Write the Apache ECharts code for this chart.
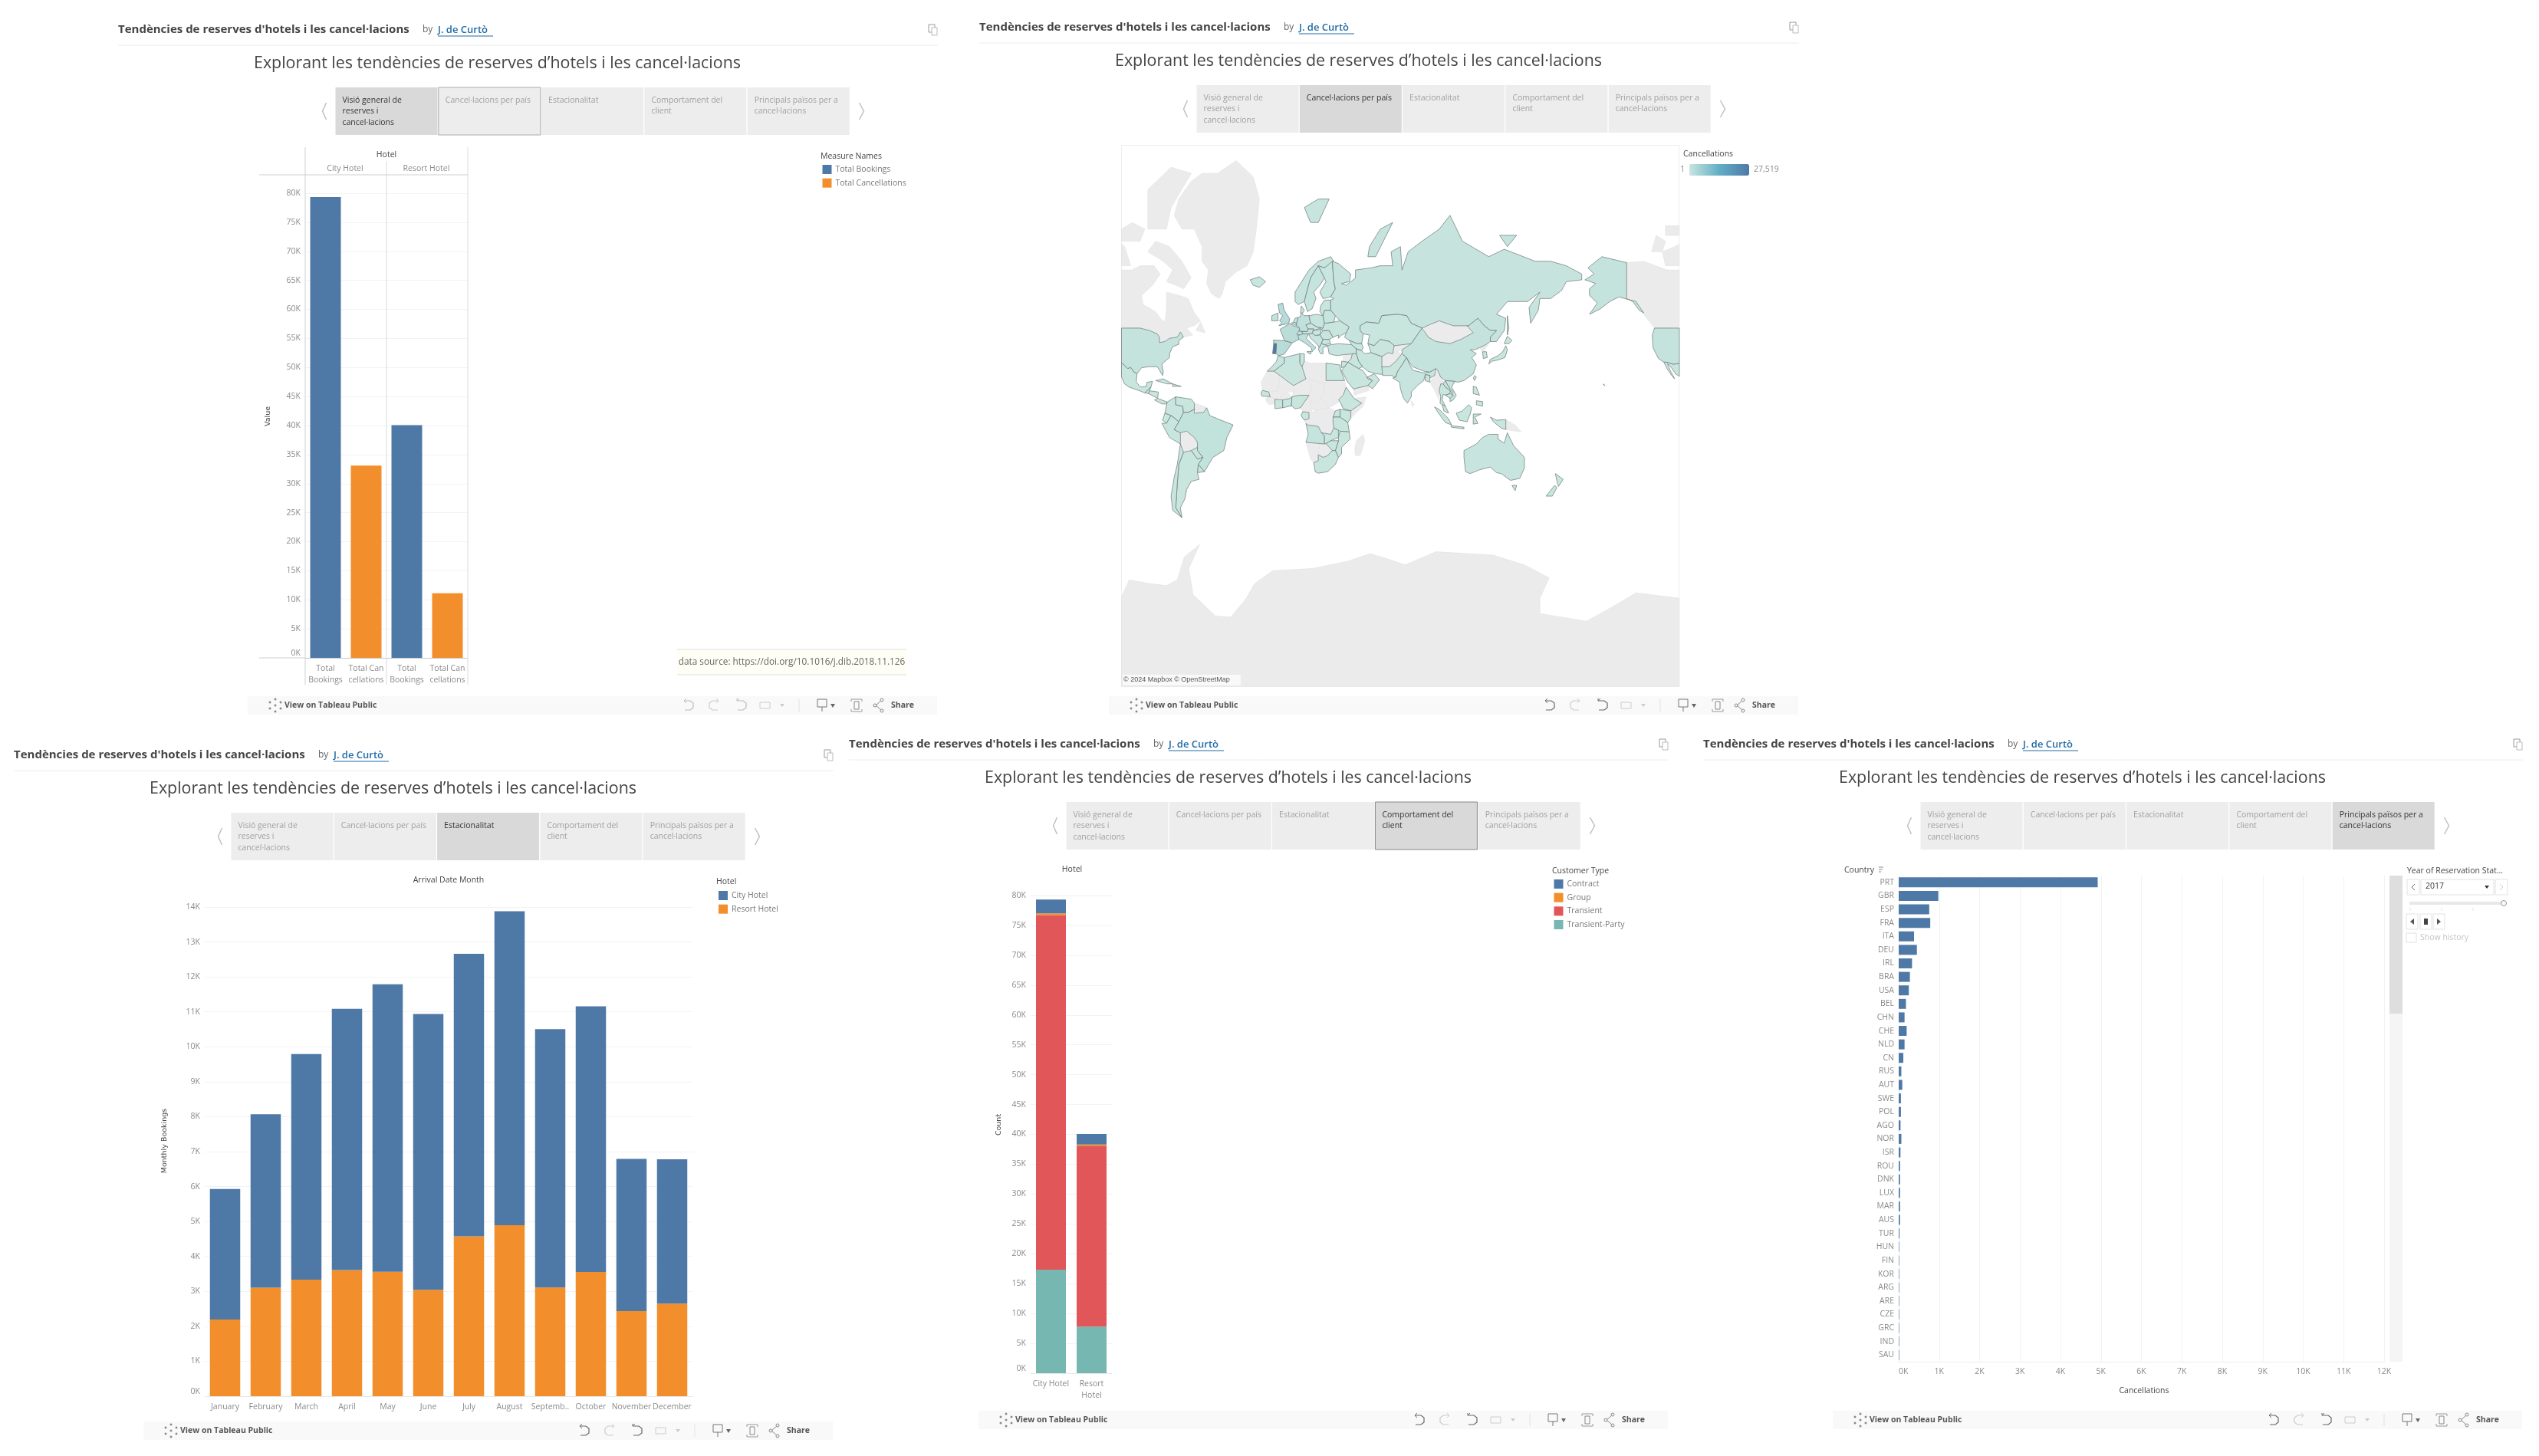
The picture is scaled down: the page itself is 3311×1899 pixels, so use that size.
<!DOCTYPE html>
<html>
<head>
<meta charset="utf-8">
<style>html,body{margin:0;background:#fff}#main{width:3311px;height:1899px}</style>
<script src="https://cdn.jsdelivr.net/npm/echarts@6/dist/echarts.min.js"></script>
</head>
<body>
<div id="main"></div>
<script>
var hotels = ['City Hotel', 'Resort Hotel'];
var measureLabels = ['Total\nBookings', 'Total Can\ncellations', 'Total\nBookings', 'Total Can\ncellations'];
var totalBookings = [79330, null, 40060, null];
var totalCancellations = [null, 33102, null, 11122];

var months = ['January', 'February', 'March', 'April', 'May', 'June', 'July', 'August', 'Septemb..', 'October', 'November', 'December'];
var cityMonthly = [3736, 4965, 6458, 7480, 8232, 7894, 8088, 8983, 7400, 7605, 4357, 4132];
var resortMonthly = [2193, 3103, 3336, 3609, 3559, 3045, 4573, 4894, 3108, 3555, 2437, 2648];

var customerHotels = ['City Hotel', 'Resort\nHotel'];
var contractCount = [2300, 1776];
var groupCount = [293, 284];
var transientCount = [59404, 30209];
var transientPartyCount = [17333, 7791];

var countryCodes = ['PRT', 'GBR', 'ESP', 'FRA', 'ITA', 'DEU', 'IRL', 'BRA', 'USA', 'BEL', 'CHN', 'CHE', 'NLD', 'CN', 'RUS', 'AUT', 'SWE', 'POL', 'AGO', 'NOR', 'ISR', 'ROU', 'DNK', 'LUX', 'MAR', 'AUS', 'TUR', 'HUN', 'FIN', 'KOR', 'ARG', 'ARE', 'CZE', 'GRC', 'IND', 'SAU'];
var countryCancellations = [4920, 980, 755, 780, 380, 450, 330, 277, 250, 180, 145, 197, 145, 115, 65, 89, 55, 55, 45, 66, 44, 33, 33, 33, 33, 33, 20, 12, 12, 12, 12, 12, 12, 12, 12, 12];

var mapNames = ['PRT', 'GBR', 'ESP', 'FRA', 'ITA', 'DEU', 'IRL', 'BRA', 'USA', 'CHN', 'BEL', 'CHE', 'NLD', 'RUS', 'AUT', 'SWE', 'POL', 'AGO', 'NOR', 'ISR', 'ROU', 'DNK', 'MAR', 'AUS', 'TUR', 'HUN', 'FIN', 'KOR', 'ARG', 'ARE', 'CZE', 'GRC', 'IND', 'SAU', 'MEX', 'GTM', 'HND', 'PAN', 'CUB', 'DOM', 'COL', 'VEN', 'ECU', 'PER', 'PRY', 'URY', 'CHL', 'ISL', 'BLK', 'BGR', 'UKR', 'BLR', 'BAL', 'KAZ', 'UZB', 'CAU', 'IRN', 'IRQ', 'EGY', 'TUN', 'DZA', 'SEN', 'CIV', 'GHA', 'NGA', 'GAB', 'ETH', 'KEN', 'UGA', 'TZA', 'ZMB', 'MOZ', 'ZWE', 'ZAF', 'PAK', 'BGD', 'JPN', 'TWN', 'VNM', 'LAO', 'THA', 'KHM', 'MYS', 'IDN', 'PHL', 'NZL'];
var mapValues = [27519, 2453, 2177, 1934, 1333, 1218, 832, 830, 501, 462, 474, 428, 387, 301, 230, 227, 194, 205, 176, 169, 132, 109, 131, 107, 98, 60, 50, 40, 60, 40, 60, 60, 70, 30, 30, 5, 5, 5, 8, 8, 40, 10, 10, 10, 5, 10, 20, 20, 90, 30, 30, 10, 40, 10, 5, 10, 50, 5, 10, 10, 30, 5, 5, 5, 30, 5, 5, 5, 2, 2, 2, 10, 5, 30, 5, 2, 40, 20, 5, 1, 15, 2, 10, 10, 10, 20];

// rough outlines, lon,lat, cut at the map's seam (lon -107)
var worldGrey = {
  ATA: ['-107,-75.2 -102,-72.1 -89,-72.8 -78,-73.2 -71,-72.1 -66.5,-67 -56.5,-63.6 -63.6,-69.7 -60.8,-74.8 -46.5,-78 -36.5,-78.2 -26.5,-75.4 -21,-72.8 -9.4,-70.2 16.3,-69.7 39,-68 53.4,-66.1 65,-67.5 76,-68.9 96,-65.6 133,-66.5 153,-68.9 169,-71.7 163,-75.4 163,-77.7 193,-78.7 210,-76.7 225,-74.5 253,-75.4 253,-84.55 -107,-84.55'],
  GRL: ['-73,78 -70,80 -62,81.8 -55,82.5 -45,82.5 -33,83.5 -22,82.2 -18,80 -20,76 -22,72 -26,69 -33,67.5 -40,65 -42,61.5 -44,60 -49,61.5 -52,64.5 -51,68 -55,70 -55,73 -60,76 -68,76'],
  CAN: ['-107,49 -95,49 -89,48 -84,46.5 -82.5,45 -82.5,42.5 -79,43 -76,44.5 -71,45 -69,47.3 -67,45 -61,46 -65,49 -60,50 -56,52 -60,55 -64,60 -70,61 -78,62 -78,56 -79,51.5 -82,53 -85,55.5 -93,58 -94,61 -87,64 -82,67 -86,69 -95,69 -100,68 -107,68',
    '-62,66 -67,63 -72,64 -78,65 -74,68 -80,70 -90,72 -85,74 -76,73 -68,70', '-90,76 -78,76 -75,79 -62,82.5 -75,83 -90,81', '-107,69 -101,69 -105,73 -107,73.5', '-107,74 -95,74 -92,76 -100,77 -107,76', '-59,48 -53,47 -56,51.5',
    '-107.001,49 -123,49 -130,54.5 -133,58 -137,59 -141,60 -141,69.7 -130,70 -115,68 -107.001,68', '-125,72 -118,72 -116,74 -122,75', '-107.001,69 -116,69 -118,72 -110,73 -107.001,73.5', '-116,75 -107.001,75 -107.001,76.5 -116,76.5'],
  MNG: ['88,49 92,50.5 98,52 107,50 116,50 120,47 112,44 105,42 96,43 91,45'],
  BOL: ['-69,-11 -65,-10 -60,-14 -58,-17 -58,-20 -62,-22 -67,-23 -69,-18'],
  GUY: ['-60,8 -54,6 -52,5 -54,2 -58,1.5 -60,4'],
  LBY: ['9.5,30 11,33 15,32 20,32 25,32 25,20 24,19.5 15,23 12,23'],
  MRT: ['-17,21 -13,27.5 -8.7,27.5 -4.8,25 -6,15.5 -12,15 -16,16'],
  MLI: ['-12,15 -6,15.5 -4.8,25 1,21 4,19 4,15 0,15 -5,11 -8,10.5 -11,12'],
  NER: ['4,15 4,19 12,23 15,23 15.5,17 14,13 8,13 3,12'],
  TCD: ['14,13 15.5,17 15,23 24,19.5 24,15 22,11 18,8 15,10'],
  SDN: ['24,19.5 25,22 37,22 38,18 36,13 33,10 34,9 27,5 22,11 24,15'],
  BFA: ['-5,11 0,15 3,12 2,11 -3,10'],
  GIN: ['-14,11 -11,12 -8,10.5 -8,7.5 -11.5,7 -13.5,9'],
  CMR: ['8.5,5 14,13 15,10 15,7 16,2 10,2.5'],
  CAF: ['15,10 18,8 22,11 27,5 19,3.5 15,4'],
  COD: ['12,-5 11,-3 14,-2 14,1 18,3.5 27,5 31,3 29.5,-4 30,-8 28,-12 22,-11 20,-7 13,-6'],
  SOM: ['41,-1.5 41,3 48,8 43,11 51,12 49,6'],
  NAM: ['12,-17 24,-18 21,-18 20,-22 20,-28 17,-29 15,-27'],
  BWA: ['21,-18 25,-17.8 29,-22 26,-25 23,-26 20,-24.5 20,-22'],
  MDG: ['49,-12 50,-16 47,-25 44,-25 43.5,-21 44.5,-16'],
  AFG: ['61,35.5 65,37.5 71,38 74,37 70,33 66,30 61,30'],
  SYR: ['36,36.5 42,37 41,34 39,32.5 36,33'],
  YEM: ['43,13 43,17 52,19 53,16'],
  KGZ: ['69,41 80,42 74,39 68,37'],
  MMR: ['92,21 97,28 99,24 101,21 98,16 98,10 95,16'],
  PNG: ['141,-2.6 147,-6 151,-10.5 147,-10 141,-9'],
  PRK: ['124,40 128,41.5 130,42 127.5,39 126,38'],
  LKA: ['80,9.5 82,7 80.5,6']
};
var worldTeal = {
  USA: ['-107,49 -95,49 -89,48 -84,46.5 -82.5,45 -82.5,42.5 -79,43 -76,44.5 -71,45 -69,47.3 -67,45 -70,43.5 -70,41.7 -74,40.5 -76,37 -76,35 -81,31.5 -80,27 -80.5,25 -82.5,28 -84,30 -89,30 -94,29.5 -97,26 -99,27 -101,29.5 -103,29 -106.5,31.8 -107,31.8',
    '-107.001,49 -107.001,31.8 -111,31.3 -115,32.5 -117,32.5 -120.5,34.5 -124,40 -124.5,46 -123,49',
    '-141,69.7 -141,60 -137,59 -133,56 -130,55 -135,59 -146,60.5 -152,59 -158,56.5 -165,54.5 -160,58.5 -165,61 -165,63 -161,64.5 -168,65.5 -162,67 -166,68.5 -157,71', '-156,20 -155,19 -156,19.5'],
  MEX: ['-107,31.8 -106.5,31.8 -103,29 -101,29.5 -99,27 -97,26 -97.5,21 -94.5,18 -91,18.5 -90.5,21 -87,21.5 -88,18 -92,14.5 -96,16 -102,18 -105,20 -107,24', '-107.001,31.8 -107.001,24.5 -109.5,26 -112.5,30 -114.7,31.7 -113,28 -110,23 -112,25 -115,29 -117,32.5 -115,32.5 -111,31.3'],
  GTM: ['-92,14.5 -88,18 -89,15.8 -89.5,14'],
  HND: ['-89,15.8 -83.2,15 -83.7,11 -87.5,13 -89.5,14'],
  PAN: ['-83.7,11 -77.5,8.7 -78,7.5 -81,7.5 -85.7,10'],
  CUB: ['-85,22 -80,23 -74,20 -77.5,20'],
  DOM: ['-74,18.5 -74,20 -68.5,18.5'],
  COL: ['-77.5,8.7 -72,12 -72,7 -67.5,6 -67,2 -70,-4 -74,-0.5 -79,1.5'],
  VEN: ['-72,12 -62,10.5 -60,8 -60,4 -64,2 -67,2 -67.5,6 -72,7'],
  ECU: ['-79,1.5 -75,0 -78,-5 -80.5,-3'],
  PER: ['-81,-5 -78,-5 -75,0 -70,-4 -73,-9 -69,-11 -69,-18 -76,-14'],
  BRA: ['-70,-4 -67,2 -64,2 -60,4 -60,1.5 -54,2 -52,5 -50,0 -44,-2.5 -35,-6 -39,-14 -41,-22 -48,-26 -53.5,-34 -57.5,-30 -54.5,-26 -58,-22 -58,-17 -60,-14 -65,-10 -69,-11 -73,-9'],
  PRY: ['-58,-20 -62,-22 -58,-27 -54.5,-26 -58,-22'],
  URY: ['-57.5,-30 -53.5,-34 -58,-34.5'],
  ARG: ['-67,-23 -62,-22 -58,-27 -54.5,-26 -57.5,-30 -58,-34.5 -57,-38 -62,-39 -65,-43 -66,-47 -69,-51 -68,-54.8 -72,-51 -71,-40 -70,-30'],
  CHL: ['-69,-18 -67,-23 -70,-30 -71,-40 -72,-51 -68,-54.8 -74,-52 -75,-46 -73,-37 -71,-30'],
  ISL: ['-24,65.5 -18,66.3 -14,65 -18,63.4 -22,64'],
  GBR: ['-5.5,50 1,51 1.5,52.8 -2,56 -3,58.5 -6,58 -5,55 -3,54 -5,52 -3.5,51.2'],
  IRL: ['-10,52 -6,52 -6,55 -10,54'],
  ESP: ['-9,43.7 -1.8,43.4 3.2,42.4 0,39 -2,36.8 -5.5,36 -7.4,37 -7,42 -8.8,42'],
  FRA: ['-1.8,43.4 -4.7,48.5 1.6,50.9 4,50 8,49 7.5,44 3.2,42.4'],
  BEL: ['2.5,51 6,50 6,51 4,51.5'],
  NLD: ['4,51.5 6,51 7,53.3 5,53'],
  DEU: ['6,51 6,50 8,49 7.5,47.7 13,47.5 13.5,48.7 12,50.3 15,51 14,54 11,54 9,55 8.5,53.7 7,53.3'],
  CHE: ['6,46.3 7.5,47.7 9.5,47.5 10,46.5 8,46'],
  ITA: ['7.5,44 6.8,45.8 8,46 10,46.5 13.7,46.5 12.3,44.5 16,41.7 18.5,40 17,39 16,38 15.5,40 11,42.5', '12.5,38 15.5,38.2 15,36.7'],
  AUT: ['9.5,47.5 13,47.5 13.5,48.7 17,48.7 16,46.8 13.7,46.5 10,46.5'],
  DNK: ['8.5,55 9,57.5 11,56 10,55'],
  NOR: ['5,59 5,62 14,68 20,70 28,71 30,70 24,68.5 20,69 15,66 12,61 11,59 7,58', '11,79 20,80 27,80 20,77 15,77'],
  SWE: ['11,59 12,61 15,66 20,69 24,66 21,64 17,62 18.5,60 16,56.5 13,55.5'],
  FIN: ['24,66 20,69 24,68.5 29,70 30,65 31,63 28,60.5 23,60 21,62 25,65'],
  POL: ['14,54 15,51 19,49.5 23,49 24,51 23,54 19,54.5'],
  CZE: ['12,50.3 15,51 19,49.5 22,49 17,48 17,48.7 13.5,48.7'],
  HUN: ['16,46.8 17,48 22,48.5 21,46 18,45.8'],
  BLK: ['13.7,46.5 16,46.8 18,45.8 21,46 23,44 22,42 20.5,40 19.5,41.5 15,44.5'],
  ROU: ['21,46 23,48 27,48 29.5,45 27,44 23,44'],
  BGR: ['23,44 27,44 28,42 24,41.5 22,42'],
  GRC: ['20.5,40 22,42 24,41.5 26,41 23,40 23,37 21.5,37 20,39'],
  TUR: ['26,41 28,41.5 33,42 41.5,41.5 44.5,39.5 44.5,37 36,36.5 33,36 30,36.3 27,37'],
  UKR: ['24,51 30,51.5 34,52 40,49.5 38,47 35,46 33,44.5 33,46 29.5,45 27,48 23,48 22,48.5 23,49'],
  BLR: ['23,54 24,56 28,56 31,54 30,51.5 24,51'],
  BAL: ['21,55.5 21.5,57.5 24,59.5 28,59.5 28,56 24,56 23,54'],
  RUS: ['28,59.5 30,60 28,60.5 31,63 30,65 29,70 33,69.5 41,67 40,65 35,64.5 38,64 44,66 44,68 54,68.5 60,69 68,69 67,72 73,73 74,68 78,72 87,74 98,76 105,78 113,74 130,71 140,72.5 160,70 170,70 180,69 190,67 190,65.5 180,65 177,62.5 170,60 163,60 162,56 157,51 156,57 163,62 155,59 142,59 135,54.5 141,53 140,48 135,43 131,43 131,45 135,48 131,48 127,50 123,53 117,50 107,50 98,52 92,50.5 87,49 80,51 77,54 71,54.5 61,54 59,51 51,51.5 47,50 47,48 49,46.5 48,42 45,42 40,43.5 37,45 38,47 40,49.5 34,52 31,54 28,56',
    '52,71 57,71 68,77 60,76 53,73', '137,75 148,75 142,73', '142,54 143,49 142,46 141.9,50'],
  KAZ: ['47,50 51,51.5 59,51 61,54 71,54.5 77,54 80,51 87,49 80,42 69,41 66,43 60,44 56,41 52,42 53,46 49,46.5 47,48'],
  UZB: ['56,41 60,44 66,43 69,41 68,37 65,37.5 61,35.5 54,37.5 53,40 52,42'],
  CAU: ['40,43.5 45,42 48,42 49,40 48,38.5 44.5,39.5 41.5,41.5'],
  IRN: ['44.5,39.5 48,38.5 50,37 54,37.5 61,35.5 61,30 63,25.5 57,26 52,27.5 48.5,30 46,33 44.5,37'],
  IRQ: ['44.5,37 46,33 48.5,30 46,29 42,31 39,32.5 41,34 42,37'],
  SAU: ['39,32.5 42,31 46,29 48.5,28 51,25 52,23 55,22 52,19 43,17 43,16.5 39,21 35,28 37,30'],
  ISR: ['35,29.5 35,33 36,33 39,32.5 37,30'],
  ARE: ['51.5,24 56,26 59.5,22.5 55,17 52,19 55,22'],
  EGY: ['25,32 34,31 34.5,28 37,22 25,22'],
  TUN: ['8,37 11,37 11,33 9.5,30 8,32'],
  DZA: ['-2,35 8,37 8,32 9.5,30 12,23 4,19 1,21 -4.8,25 -8.7,27.5 -2,32'],
  MAR: ['-6,36 -2,35 -2,32 -8.7,27.5 -13,27.5 -10,30 -7,33'],
  SEN: ['-17,14.7 -16,16 -12,15 -11,12 -16.5,12.5'],
  CIV: ['-8,10.5 -3,10 -3,5 -8,4.5 -8,7.5'],
  GHA: ['-3,10 2,11 3,12 2.7,6.3 -3,5'],
  NGA: ['3,12 8,13 14,13 8.5,5 5,4.3 2.7,6.3'],
  GAB: ['8.8,0 10,2.5 14,2 14,-2 11,-3'],
  AGO: ['12,-5 13,-6 20,-7 22,-11 24,-13 24,-18 12,-17 13.5,-12'],
  ETH: ['33,10 36,13 38,18 43,11 48,8 41,3 36,4.5 34,9'],
  KEN: ['34,4 41,3 41,-1.5 39,-4.5 34,-1'],
  UGA: ['31,3 34,4 34,-1 29.5,-1'],
  TZA: ['29.5,-1 34,-1 39,-4.5 40,-10.5 34,-10 30,-8 29.5,-4'],
  ZMB: ['22,-11 28,-12 30,-8 33,-9.5 33,-14 28,-16 25,-17.8 24,-18 24,-13'],
  MOZ: ['34,-10 40,-10.5 40.5,-15 35,-20 35,-24 33,-26 31,-22 33,-16 33,-14'],
  ZWE: ['25,-17.8 28,-16 33,-16 31,-22 29,-22'],
  ZAF: ['17,-29 20,-28 20,-24.5 23,-26 26,-25 29,-22 31,-22 33,-26 31,-30 26,-34 20,-34.8 18,-34'],
  PAK: ['61,30 66,30 70,33 74,37 77,35 74,31 71,27 70,24 67,25 61.5,25'],
  IND: ['68,23.5 70,24 71,27 74,31 77,35 79,31 81,28 88,26.5 92,27 96,29 95,25 92,23.5 92,25 89,25.5 88,22 84,19 80,15 80,12 77.5,8 75,11 73,17 72.5,21'],
  BGD: ['89,25.5 92,25 92,21 89,22'],
  CHN: ['74,37 74,39 80,42 87,49 91,45 96,43 105,42 112,44 120,47 116,50 117,50 123,53 127,50 131,48 135,48 131,45 131,43 128,41.5 124,40 121,39 118,39 122,37 119,35 122,31 120,26 114,22 110,21 108,21.5 102,22 99,24 97,28 96,29 92,27 88,27.5 81,30 79,32 77,35'],
  KOR: ['126,38 128.5,38 129,35 126.5,34.5'],
  JPN: ['130,31.5 131,34 136,36 139,38 141,41 142,39 140.5,35 136,33.7 132,33', '140,42 142,45.5 145,43.5 143,42'],
  TWN: ['121,25 122,24 120.8,22 120,23.5'],
  VNM: ['102,22 108,21.5 106,18 109,13 107,10 105,9 105,11 107,13 105,17 103,20'],
  LAO: ['102,22 103,20 105,17 107,15 106,14 105,16 102,18 100.5,20'],
  THA: ['98,16 99,20 100.5,20 102,18 105,16 105,14 102,13 100.5,13.5 100,10 102,6 100,7 98.5,8 99,12'],
  KHM: ['102,13 105,14 107,13 105,11'],
  MYS: ['100,7 102,6 103.5,3 104,1.5 101,3'],
  IDN: ['109,1.5 113,3 117,7 119,5 118,1 116,-4 111,-3', '95,5.5 98,4 104,-2 106,-6 102,-4.5 98,1', '105.5,-6.5 114,-7.5 114,-8.5 106,-7.5', '120,1 125,1 121,-1 123,-5 120,-5.5', '131,-1 135,-3 141,-2.6 141,-9 138,-8 133,-4'],
  PHL: ['120,18.5 122,18 124,13 120,14', '122,9.5 126,9 126,6 122,7'],
  AUS: ['114,-22 122,-18 126,-14 130,-12 136,-12 136,-15 140,-17.5 142,-11 146,-19 153,-26 153,-32 150,-37.5 144,-38.5 138,-35 135,-34.5 131,-31.5 124,-33 118,-35 115,-34 114,-26', '145,-41 148,-41 147,-43.5'],
  NZL: ['173,-35 178,-38 175,-41.5 174,-39', '172.5,-41 174,-42 171,-46 167,-46'],
  PRT: ['-9.5,37 -7.4,37 -7,42 -8.8,42']
};

var bodyFont = '"Open Sans"';
var titleFont = '"Open Sans"';
var blue = '#4e79a7', orange = '#f28e2b', red = '#e15759', teal = '#76b7b2';
var tabNames = [['Visió general de', 'reserves i', 'cancel·lacions'], ['Cancel·lacions per país'], ['Estacionalitat'], ['Comportament del', 'client'], ['Principals països per a', 'cancel·lacions']];
var els = [];

function txt(x, y, s, o) {
  o = o || {};
  els.push({
    type: 'text', x: x, y: y, rotation: o.rot || 0, z: o.z || 5,
    style: {
      text: s, fill: o.fill || '#666', fontSize: o.size || 10.5, fontFamily: o.font || bodyFont,
      fontWeight: o.weight || 'normal', align: o.align || 'left', verticalAlign: 'middle'
    }
  });
}
function box(x, y, w, h, fill, stroke, z) {
  els.push({ type: 'rect', z: z || 1, shape: { x: x, y: y, width: w, height: h }, style: { fill: fill || 'none', stroke: stroke || 'none', lineWidth: 1 } });
}
function pline(pts, color, lw, z) {
  els.push({ type: 'polyline', z: z || 6, shape: { points: pts }, style: { stroke: color, fill: 'none', lineWidth: lw || 1 } });
}
function tri(pts, color) {
  els.push({ type: 'polygon', z: 6, shape: { points: pts }, style: { fill: color } });
}
function dot(x, y, r, stroke) {
  els.push({ type: 'circle', z: 6, shape: { cx: x, cy: y, r: r }, style: { fill: '#f9f9f9', stroke: stroke } });
}

function header(hx, hy, sel, hover, barY, iconsOn) {
  txt(hx, hy, 'Tendències de reserves d\'hotels i les cancel·lacions', { size: 15, weight: 700, fill: '#444', font: titleFont });
  txt(hx + 397, hy, 'by', { size: 12, fill: '#666' });
  txt(hx + 417, hy, 'J. de Curtò', { size: 13, fill: '#1f6aa5', weight: 600 });
  pline([[hx + 417, hy + 8], [hx + 489, hy + 8]], '#1f6aa5', 1);
  pline([[hx, hy + 20], [hx + 1069, hy + 20]], '#ececec', 1);
  // copy link icon
  var ix = hx + 1062;
  pline([[ix - 1, hy + 3], [ix - 5, hy + 3], [ix - 5, hy - 7], [ix + 3, hy - 7], [ix + 3, hy - 3]], '#999', 1);
  box(ix - 1, hy - 3, 7, 10, '#fff', '#bbb', 6);

  txt(hx + 177, hy + 44, 'Explorant les tendències de reserves d’hotels i les cancel·lacions', { size: 21.4, fill: '#444', font: titleFont });

  var tabX = hx + 283.5, tabY = hy + 75;
  tabNames.forEach(function (lines, i) {
    var x = tabX + i * 134.3;
    var on = i === sel;
    box(x, tabY, 133, 62, on ? '#d9d9d9' : '#ededed', i === hover ? '#aaa' : 'none');
    lines.forEach(function (l, k) {
      txt(x + 9, tabY + 17 + k * 14.3, l, { fill: on ? '#333' : '#a0a0a0' });
    });
  });
  pline([[tabX - 12, tabY + 20], [tabX - 17, tabY + 31], [tabX - 12, tabY + 42]], '#c0c0c0', 1.5);
  pline([[tabX + 683, tabY + 20], [tabX + 689, tabY + 31], [tabX + 683, tabY + 42]], '#c0c0c0', 1.5);

  // bottom toolbar
  box(hx + 169, barY, 899, 24, '#f9f9f9', 'none', 1);
  var cy = barY + 12, lx = hx + 205;
  [[0, 0], [0, -8], [0, 8], [-7, -4], [7, -4], [-7, 4], [7, 4]].forEach(function (p) {
    pline([[lx + p[0] - 1.5, cy + p[1]], [lx + p[0] + 1.5, cy + p[1]]], '#666', 1);
    pline([[lx + p[0], cy + p[1] - 1.5], [lx + p[0], cy + p[1] + 1.5]], '#666', 1);
  });
  txt(hx + 217, cy, 'View on Tableau Public', { size: 10.5, weight: 700, fill: '#555' });
  var r = hx + 1068;
  var dark = iconsOn ? '#666' : '#bbb';
  pline([[r - 330, cy - 6], [r - 322, cy - 6], [r - 318, cy - 3], [r - 318, cy + 3], [r - 322, cy + 6], [r - 329, cy + 6]], dark, 1.2);
  pline([[r - 327, cy - 9], [r - 330, cy - 6], [r - 327, cy - 3]], dark, 1);
  pline([[r - 285, cy - 6], [r - 293, cy - 6], [r - 297, cy - 3], [r - 297, cy + 3], [r - 293, cy + 6], [r - 286, cy + 6]], '#ccc', 1.2);
  pline([[r - 288, cy - 9], [r - 285, cy - 6], [r - 288, cy - 3]], '#ccc', 1);
  pline([[r - 261, cy - 6], [r - 253, cy - 6], [r - 249, cy - 3], [r - 249, cy + 3], [r - 253, cy + 6], [r - 260, cy + 6]], dark, 1.2);
  pline([[r - 258, cy - 9], [r - 261, cy - 6], [r - 261, cy - 9]], dark, 1);
  box(r - 231, cy - 4, 13, 8, 'none', '#ccc', 6);
  tri([[r - 205, cy - 2], [r - 199, cy - 2], [r - 202, cy + 2]], '#ccc');
  pline([[r - 180, cy - 8], [r - 180, cy + 8]], '#e2e2e2', 1);
  box(r - 156, cy - 8, 12, 10, 'none', '#777', 6);
  pline([[r - 150, cy + 2], [r - 150, cy + 8]], '#777', 1);
  tri([[r - 139, cy - 2], [r - 133, cy - 2], [r - 136, cy + 3]], '#666');
  box(r - 108, cy - 5, 6, 10, 'none', '#888', 6);
  pline([[r - 112, cy - 5], [r - 112, cy - 8], [r - 98, cy - 8], [r - 98, cy - 5]], '#999', 1);
  pline([[r - 112, cy + 5], [r - 112, cy + 8], [r - 98, cy + 8], [r - 98, cy + 5]], '#999', 1);
  pline([[r - 73, cy - 6], [r - 80, cy], [r - 73, cy + 6]], '#888', 1);
  dot(r - 72, cy - 7, 2, '#888');
  dot(r - 81, cy, 2, '#888');
  dot(r - 72, cy + 7, 2, '#888');
  txt(r - 60, cy, 'Share', { size: 10.5, weight: 700, fill: '#555' });
}

var grids = [], xAxes = [], yAxes = [], series = [], legends = [];

function kLabel(v) { return v / 1000 + 'K'; }
function addCartesian(g, catData, max, interval) {
  var idx = grids.length;
  grids.push({ left: g.left, top: g.top, width: g.width, height: g.height });
  xAxes.push({
    type: 'category', gridIndex: idx, data: catData,
    axisLine: { lineStyle: { color: g.axisColor || '#e8e8e8' } }, axisTick: { length: 4, lineStyle: { color: '#e8e8e8' } },
    axisLabel: { interval: 0, color: '#8a8a8a', fontSize: 10.5, fontFamily: bodyFont, margin: 7, lineHeight: 14.5 }
  });
  yAxes.push({
    type: 'value', gridIndex: idx, min: 0, max: max, interval: interval,
    axisLine: { show: false }, axisTick: { show: false },
    axisLabel: { formatter: kLabel, color: '#8a8a8a', fontSize: 10.5, fontFamily: bodyFont, margin: 6, verticalAlignMinLabel: 'bottom' },
    splitLine: { lineStyle: { color: '#f3f3f3' } }
  });
  return idx;
}
function addBar(idx, name, data, color, width, stack) {
  series.push({ type: 'bar', name: name, xAxisIndex: idx, yAxisIndex: idx, data: data, stack: stack, barWidth: width, silent: true, itemStyle: { color: color } });
}
function addLegend(names, left, top) {
  legends.push({
    data: names, left: left, top: top, orient: 'vertical', itemWidth: 12, itemHeight: 12, itemGap: 5.67, icon: 'rect', selectedMode: false,
    textStyle: { color: '#777', fontSize: 10.5, fontFamily: bodyFont }, padding: 0
  });
}

// panel 1, bookings and cancellations per hotel
header(154, 39, 0, 1, 908, false);
var g1 = addCartesian({ left: 398, top: 252, width: 212, height: 606, axisColor: '#c8c8c8' }, measureLabels, 80000, 5000);
addBar(g1, 'Total Bookings', totalBookings, blue, 40, 'a');
addBar(g1, 'Total Cancellations', totalCancellations, orange, 40, 'a');
addLegend(['Total Bookings', 'Total Cancellations'], 1072.5, 215);
txt(1070, 204, 'Measure Names', { fill: '#444' });
pline([[398, 192], [398, 893]], '#cfcfcf', 1);
pline([[504, 210], [504, 893]], '#dcdcdc', 1);
pline([[610, 192], [610, 893]], '#dcdcdc', 1);
pline([[338, 228], [610, 228]], '#cfcfcf', 1);
pline([[338, 858], [398, 858]], '#cfcfcf', 1);
txt(504, 202, 'Hotel', { align: 'center', fill: '#444' });
txt(450, 220, hotels[0], { align: 'center', fill: '#8a8a8a' });
txt(556, 220, hotels[1], { align: 'center', fill: '#8a8a8a' });
txt(350, 543, 'Value', { rot: Math.PI / 2, align: 'center', size: 9.5, fill: '#444', font: '"DejaVu Sans"' });
box(883, 847, 299, 33, '#fffef5', 'none');
pline([[883, 847], [1182, 847]], '#ddd', 1);
pline([[883, 880], [1182, 880]], '#ddd', 1);
txt(1032.5, 864, 'data source: https://doi.org/10.1016/j.dib.2018.11.126', { align: 'center', fill: '#666', size: 11.8 });

// panel 2, map
header(1277, 36, 1, -1, 908, true);
box(1462.5, 189.5, 727, 706, '#fff', '#eeeeee', 0);
txt(2195, 201, 'Cancellations', { fill: '#444' });
box(1464, 880, 154, 14, 'rgba(255,255,255,0.7)', 'none', 20);
txt(1465, 887, '© 2024 Mapbox © OpenStreetMap', { size: 9, fill: '#555', z: 21, font: '"Liberation Sans"' });

// panel 3, monthly
header(18, 985, 2, -1, 1854, true);
var g3 = addCartesian({ left: 267, top: 1183, width: 636, height: 638 }, months, 14000, 1000);
addBar(g3, 'Resort Hotel', resortMonthly, orange, 39.5, 'b');
addBar(g3, 'City Hotel', cityMonthly, blue, 39.5, 'b');
addLegend(['City Hotel', 'Resort Hotel'], 937, 1162);
txt(934, 1150, 'Hotel', { fill: '#444' });
txt(585, 1148, 'Arrival Date Month', { align: 'center', fill: '#444' });
txt(215, 1488, 'Monthly Bookings', { rot: Math.PI / 2, align: 'center', size: 9.5, fill: '#444', font: '"DejaVu Sans"' });

// panel 4, customer type
header(1107, 971, 3, -1, 1840, true);
box(1390.5 + 3 * 134.3, 1046, 133, 62, 'none', '#888', 3);
var g4 = addCartesian({ left: 1344, top: 1168, width: 106, height: 623 }, customerHotels, 80000, 5000);
addBar(g4, 'Transient-Party', transientPartyCount, teal, 39, 'c');
addBar(g4, 'Transient', transientCount, red, 39, 'c');
addBar(g4, 'Group', groupCount, orange, 39, 'c');
addBar(g4, 'Contract', contractCount, blue, 39, 'c');
addLegend(['Contract', 'Group', 'Transient', 'Transient-Party'], 2026.5, 1147);
txt(2024, 1136, 'Customer Type', { fill: '#444' });
txt(1398, 1134, 'Hotel', { align: 'center', fill: '#444' });
txt(1303, 1467, 'Count', { rot: Math.PI / 2, align: 'center', size: 9.5, fill: '#444', font: '"DejaVu Sans"' });

// panel 5, top countries
header(2221, 971, 4, -1, 1840, true);
var g5 = grids.length;
grids.push({ left: 2476, top: 1142, width: 633, height: 634 });
xAxes.push({
  type: 'value', gridIndex: g5, min: 0, max: 12000, interval: 1000,
  axisLine: { show: true, lineStyle: { color: '#eeeeee' } }, axisTick: { show: false },
  axisLabel: { formatter: kLabel, color: '#8a8a8a', fontSize: 10.5, fontFamily: bodyFont, margin: 8, alignMinLabel: 'left' },
  splitLine: { lineStyle: { color: '#f3f3f3' } }
});
yAxes.push({
  type: 'category', gridIndex: g5, data: countryCodes, inverse: true,
  axisLine: { show: true, lineStyle: { color: '#eeeeee' } }, axisTick: { show: false },
  axisLabel: { interval: 0, color: '#8a8a8a', fontSize: 10.5, fontFamily: bodyFont, margin: 6 }
});
addBar(g5, 'Cancellations', countryCancellations, blue, 13);
box(3116, 1142, 17, 634, '#f5f5f5', 'none', 4);
box(3116, 1142, 17, 180, '#dedede', 'none', 4);
txt(2405, 1135, 'Country', { fill: '#444' });
pline([[2450, 1131], [2456, 1131]], '#888', 1);
pline([[2450, 1134], [2455, 1134]], '#888', 1);
pline([[2450, 1137], [2453, 1137]], '#888', 1);
txt(2796, 1814, 'Cancellations', { align: 'center', fill: '#444' });
txt(3139, 1136, 'Year of Reservation Stat...', { fill: '#444' });
box(3139, 1147, 16, 20, '#fff', '#e2e2e2', 2);
box(3157, 1147, 95, 20, '#fff', '#e2e2e2', 2);
box(3254, 1147, 16, 20, '#fff', '#e2e2e2', 2);
pline([[3149, 1153], [3145, 1157], [3149, 1161]], '#666', 1);
pline([[3260, 1153], [3264, 1157], [3260, 1161]], '#ccc', 1);
txt(3163, 1156, '2017', { fill: '#333' });
tri([[3240, 1155], [3246, 1155], [3243, 1159]], '#333');
box(3142, 1176, 120, 4, '#e8e8e8', 'none', 2);
dot(3265, 1178, 3.5, '#999');
[3143, 3184, 3225].forEach(function (x) { pline([[x, 1184], [x, 1188]], '#e4e4e4', 1); });
[3138, 3156, 3173].forEach(function (x) { box(x, 1192, 15, 20, '#fff', '#e2e2e2', 2); });
tri([[3148, 1198], [3148, 1206], [3143, 1202]], '#555');
box(3161, 1198, 5, 8, '#444', 'none', 6);
tri([[3178, 1198], [3178, 1206], [3183, 1202]], '#555');
box(3138, 1217, 13, 12, '#fff', '#e2e2e2', 2);
txt(3156, 1223, 'Show history', { fill: '#c4c4c4' });

// map series, grey first so the teal borders stay on top
function parseRing(s) {
  return s.split(' ').map(function (p) {
    var a = p.split(',').map(Number);
    if (a[0] < -107) a[0] += 360;
    return a;
  });
}
function toFeatures(shapes) {
  return Object.keys(shapes).map(function (k) {
    return {
      type: 'Feature', properties: { name: k },
      geometry: { type: 'MultiPolygon', coordinates: shapes[k].map(function (r) { return [parseRing(r)]; }) }
    };
  });
}
echarts.registerMap('world', { type: 'FeatureCollection', features: toFeatures(worldGrey).concat(toFeatures(worldTeal)) });

var mapData = mapNames.map(function (n, i) {
  return { name: n, value: mapValues[i], itemStyle: { borderColor: '#6a7775', borderWidth: 0.7 } };
});
var mapIndex = series.length;
series.push({
  type: 'map', map: 'world', silent: true, aspectScale: 1, roam: false, selectedMode: false, showLegendSymbol: false,
  left: 1462.5, top: 189, width: 727.5, height: 706,
  boundingCoords: [[-107, 84.55], [253, -84.55]],
  projection: {
    project: function (c) { return [c[0] * Math.PI / 180, -Math.log(Math.tan(Math.PI / 4 + c[1] * Math.PI / 360))]; },
    unproject: function (p) { return [p[0] * 180 / Math.PI, (2 * Math.atan(Math.exp(-p[1])) - Math.PI / 2) * 180 / Math.PI]; }
  },
  label: { show: false }, emphasis: { disabled: true },
  itemStyle: { areaColor: '#ebebeb', borderColor: '#dfdfdf', borderWidth: 0.5 },
  data: mapData
});

var chart = echarts.init(document.getElementById('main'), null, { renderer: 'canvas' });
chart.setOption({
  animation: false,
  backgroundColor: '#fff',
  grid: grids, xAxis: xAxes, yAxis: yAxes, legend: legends, series: series,
  visualMap: {
    type: 'continuous', seriesIndex: mapIndex, min: 1, max: 27519, orient: 'horizontal',
    left: 2191, top: 214, itemWidth: 15, itemHeight: 78, text: ['27,519', '1'], textGap: 6, padding: 0,
    calculable: false, hoverLink: false, inRange: { color: ['#c8e5de', '#62aec5', '#4e79a7'] },
    textStyle: { color: '#888', fontSize: 10.5, fontFamily: bodyFont }
  },
  graphic: { elements: els }
});
</script>
</body>
</html>
